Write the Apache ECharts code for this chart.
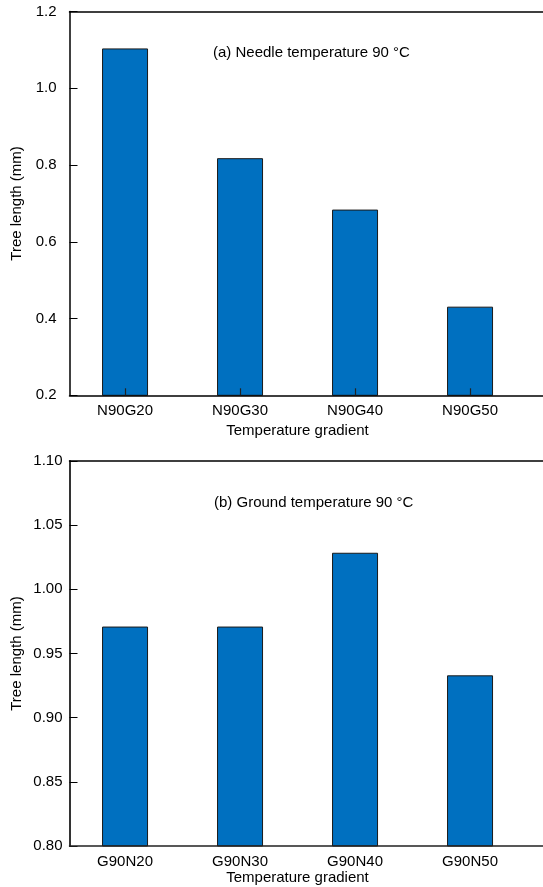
<!DOCTYPE html>
<html>
<head>
<meta charset="utf-8">
<script src="https://cdn.jsdelivr.net/npm/echarts@6/dist/echarts.min.js"></script>
<style>
  html, body { margin: 0; padding: 0; background: #fff; }
  #chart { width: 543px; height: 887px; }
</style>
</head>
<body>
<div id="chart"></div>
<script>
// Panel (a): needle temperature fixed at 90 °C
const categoriesA = ['N90G20', 'N90G30', 'N90G40', 'N90G50'];
const treeLengthA = [1.104, 0.818, 0.684, 0.431];
const yTicksA = [0.2, 0.4, 0.6, 0.8, 1.0, 1.2];

// Panel (b): ground temperature fixed at 90 °C
const categoriesB = ['G90N20', 'G90N30', 'G90N40', 'G90N50'];
const treeLengthB = [0.971, 0.971, 1.0285, 0.933];
const yTicksB = [0.80, 0.85, 0.90, 0.95, 1.00, 1.05, 1.10];

const FONT = "'Liberation Sans', Arial, sans-serif";
const BAR_COLOR = '#0070C0';
const X_MIN = 0.517, X_MAX = 4.8;
const UNIT = 115;
const plotWidth = (X_MAX - X_MIN) * UNIT;

function xAxisFor(gridIndex, cats, withTicks) {
  return {
    type: 'value', gridIndex, min: X_MIN, max: X_MAX, z: 5,
    axisLine: { show: true, lineStyle: { color: gridIndex === 0 ? '#000' : '#222', width: 1.5 } },
    axisTick: { show: withTicks, inside: true, length: 7, customValues: [1, 2, 3, 4], lineStyle: { color: '#222', width: 1.2 } },
    axisLabel: {
      customValues: [1, 2, 3, 4], margin: 8, color: '#000', fontFamily: FONT, fontSize: 15,
      formatter: v => cats[Math.round(v) - 1] || ''
    },
    splitLine: { show: false }
  };
}
function topLine(gridIndex) {
  return {
    type: 'value', gridIndex, position: 'top', min: X_MIN, max: X_MAX,
    axisLine: { show: true, onZero: false, lineStyle: { color: '#000', width: 1.5 } },
    axisTick: { show: false }, axisLabel: { show: false }, splitLine: { show: false }
  };
}
function yAxisFor(gridIndex, ticks, digits, lineColor, lineWidth, labelMargin) {
  return {
    type: 'value', gridIndex,
    min: ticks[0], max: ticks[ticks.length - 1], interval: +(ticks[1] - ticks[0]).toFixed(2),
    name: 'Tree length (mm)', nameLocation: 'middle', nameGap: 45, nameMoveOverlap: false,
    nameTextStyle: { color: '#000', fontFamily: FONT, fontSize: 15 },
    axisLine: { show: true, lineStyle: { color: lineColor, width: lineWidth } },
    axisTick: { show: true, inside: true, length: 8, lineStyle: { color: '#000', width: 1 } },
    axisLabel: { margin: labelMargin, color: '#000', fontFamily: FONT, fontSize: 15, formatter: v => v.toFixed(digits) },
    splitLine: { show: false }
  };
}
function barSeries(idx, values) {
  return {
    type: 'bar', xAxisIndex: idx * 2, yAxisIndex: idx, barWidth: 46,
    data: values.map((v, i) => [i + 1, v]),
    itemStyle: { color: BAR_COLOR, borderColor: '#1a1a1a', borderWidth: 1 },
    emphasis: { disabled: true }
  };
}

const chart = echarts.init(document.getElementById('chart'), null, { renderer: 'canvas' });
chart.setOption({
  animation: false,
  backgroundColor: '#fff',
  grid: [
    { left: 69.5, top: 11.6, width: plotWidth, height: 383.7, outerBoundsMode: 'none', containLabel: false },
    { left: 69.5, top: 461, width: plotWidth, height: 385, outerBoundsMode: 'none', containLabel: false }
  ],
  xAxis: [xAxisFor(0, categoriesA, true), topLine(0), xAxisFor(1, categoriesB, false), topLine(1)],
  yAxis: [yAxisFor(0, yTicksA, 1, '#000', 1.5, 13), yAxisFor(1, yTicksB, 2, '#333', 2, 7)],
  series: [barSeries(0, treeLengthA), barSeries(1, treeLengthB)],
  graphic: [
    { type: 'text', z: 10, style: { text: '(a) Needle temperature 90 °C', x: 213, y: 53, verticalAlign: 'middle', font: '15px ' + FONT, fill: '#000' } },
    { type: 'text', z: 10, style: { text: '(b) Ground temperature 90 °C', x: 214, y: 503, verticalAlign: 'middle', font: '15px ' + FONT, fill: '#000' } },
    { type: 'text', style: { text: 'Temperature gradient', x: 297.5, y: 431, align: 'center', verticalAlign: 'middle', font: '15px ' + FONT, fill: '#000' } },
    { type: 'text', style: { text: 'Temperature gradient', x: 297.5, y: 878, align: 'center', verticalAlign: 'middle', font: '15px ' + FONT, fill: '#000' } }
  ]
});
</script>
</body>
</html>
